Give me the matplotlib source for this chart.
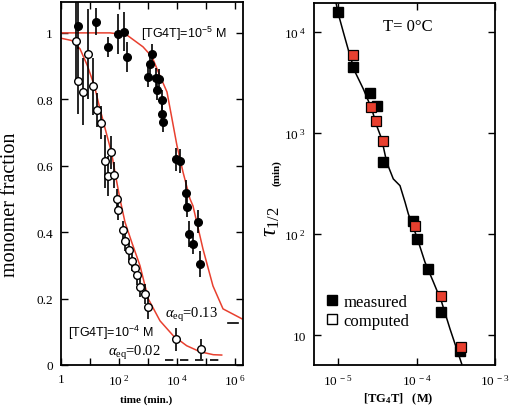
import numpy as np
import matplotlib
matplotlib.use("Agg")
import matplotlib.pyplot as plt
from matplotlib.lines import Line2D

# ---------------- data: left panel (monomer fraction vs time) ----------------
t_hi = [3.95, 15.7, 42.8, 94.6, 149, 184, 1321, 1172, 1040, 1815, 2395, 2043,
        3162, 2922, 3422, 9610, 13200, 19950, 21580, 55100, 25900, 35600, 62100]
f_hi = [1.022, 1.034, 0.957, 0.997, 1.004, 0.927, 0.937, 0.907, 0.867, 0.863,
        0.861, 0.828, 0.798, 0.756, 0.732, 0.619, 0.614, 0.518, 0.476, 0.431,
        0.395, 0.364, 0.304]
e_hi = [0.07, 0.04, 0.03, 0.06, 0.06, 0.045, 0.03, 0.03, 0.03, 0.03, 0.03, 0.03,
        0.03, 0.03, 0.03, 0.035, 0.035, 0.04, 0.03, 0.035, 0.04, 0.03, 0.04]

t_lo = [3.29, 8.74, 3.95, 5.6, 13.0, 17.9, 24.5, 54.2, 33.7, 42.8, 67.3, 83.3,
        92.4, 134, 161, 230, 292, 348, 407, 542, 788, 977, 9240, 67300]
f_lo = [0.977, 0.937, 0.856, 0.823, 0.839, 0.768, 0.729, 0.641, 0.614, 0.570,
        0.572, 0.500, 0.468, 0.405, 0.372, 0.346, 0.314, 0.291, 0.271, 0.234,
        0.215, 0.175, 0.077, 0.048]
e_lo = [0.12, 0.135, 0.10, 0.10, 0.085, 0.05, 0.05, 0.05, 0.08, 0.06, 0.04, 0.03,
        0.03, 0.03, 0.03, 0.03, 0.03, 0.03, 0.03, 0.03, 0.03, 0.035, 0.035, 0.03]

fit_hi_t = [1, 49, 184, 672, 1374, 2594, 4520, 6730, 10000, 16100, 28100, 35600,
            78800, 174000, 386000, 1.74e6]
fit_hi_f = [1.0, 1.0, 0.994, 0.958, 0.928, 0.870, 0.822, 0.741, 0.660, 0.581,
            0.500, 0.479, 0.349, 0.238, 0.169, 0.139]

fit_lo_t = [1, 2.34, 4.52, 8.07, 14.1, 22.1, 35.6, 55, 80, 108, 161, 274, 530,
            1024, 2594, 7450, 21600, 62100, 179000, 348000]
fit_lo_f = [0.984, 0.977, 0.952, 0.902, 0.841, 0.771, 0.702, 0.64, 0.56, 0.5,
            0.43, 0.37, 0.299, 0.199, 0.133, 0.088, 0.058, 0.040, 0.031, 0.030]

eq_lo_t = [3860, 355000]
eq_lo_f = [0.015, 0.015]
eq_hi_t = [575000, 1.26e6]
eq_hi_f = [0.125, 0.125]

x_ticks_left = [1, 1e1, 1e2, 1e3, 1e4, 1e5, 1e6]
x_labels_left = ["1", "", r"$\mathregular{10^{\ 2}}$", "", r"$\mathregular{10^{\ 4}}$",
                 "", r"$\mathregular{10^{\ 6}}$"]
y_ticks_left = [0, 0.2, 0.4, 0.6, 0.8, 1.0]
y_labels_left = ["0", "0.2", "0.4", "0.6", "0.8", "1"]

# ---------------- data: right panel (tau_1/2 vs [TG4T]) ----------------
conc_meas = [1.01e-5, 1.54e-5, 2.56e-5, 3.11e-5, 3.78e-5, 9.1e-5, 1.01e-4,
             1.41e-4, 2.03e-4, 3.58e-4]
tau_meas = [15700, 4470, 2470, 1840, 520, 135.5, 89, 45, 17, 7.0]
conc_comp = [1.54e-5, 2.61e-5, 3.05e-5, 3.71e-5, 9.57e-5, 2.03e-4, 3.69e-4]
tau_comp = [5920, 1820, 1325, 839, 121, 24.5, 7.55]

curve_c = [9.16e-6, 1.01e-5, 1.17e-5, 1.42e-5, 1.65e-5, 2.10e-5, 2.69e-5, 3.11e-5,
           3.60e-5, 4.17e-5, 5.06e-5, 6.16e-5, 7.14e-5, 7.87e-5, 1.01e-4, 1.28e-4,
           1.64e-4, 2.09e-4, 2.67e-4, 3.77e-4]
curve_tau = [21700, 15060, 9930, 5820, 4020, 2730, 1730, 1180, 873, 513, 351, 301,
             207, 158, 93.3, 52.8, 33.5, 21.2, 11.5, 5.16]

x_ticks_right = [1e-5, 1e-4, 1e-3]
x_labels_right = [r"$\mathregular{10^{\ -5}}$", r"$\mathregular{10^{\ -4}}$",
                  r"$\mathregular{10^{\ -3}}$"]
y_ticks_right = [10, 100, 1000, 10000]
y_labels_right = ["10", r"$\mathregular{10^{\ 2}}$", r"$\mathregular{10^{\ 3}}$",
                  r"$\mathregular{10^{\ 4}}$"]

# ---------------- figure ----------------
plt.rcParams['font.family'] = ['Liberation Serif', 'DejaVu Serif']
plt.rcParams['mathtext.fontset'] = 'custom'
plt.rcParams['mathtext.rm'] = 'Liberation Serif'
plt.rcParams['mathtext.it'] = 'Liberation Serif:italic'

W, H = 511, 410
fig = plt.figure(figsize=(W / 100, H / 100), dpi=100)

RED = '#e8402f'


def px(x, y):
    """reference pixel (from top-left) -> figure fraction"""
    return x / W, 1 - y / H


# ---- left panel ----
ax = fig.add_axes([61 / W, 44 / H, 182 / W, 363 / H])
ax.set_xscale('log')
ax.set_xlim(1, 10 ** 6.276)
ax.set_ylim(0, 1.093)

ax.plot(fit_hi_t, fit_hi_f, color=RED, lw=1.1, zorder=2)
ax.plot(fit_lo_t, fit_lo_f, color=RED, lw=1.1, zorder=2)
ax.plot(eq_lo_t, eq_lo_f, color='black', lw=1.2, dashes=(5, 4), zorder=2)
ax.plot(eq_hi_t, eq_hi_f, color='black', lw=1.2, zorder=2)

ax.errorbar(t_hi, f_hi, yerr=e_hi, fmt='o', ms=5.5, mfc='black', mec='black',
            ecolor='black', elinewidth=1.2, capsize=0, zorder=3)
ax.errorbar(t_lo, f_lo, yerr=e_lo, fmt='o', ms=5.5, mfc='white', mec='black',
            mew=1.0, ecolor='black', elinewidth=1.2, capsize=0, zorder=3)

ax.set_xticks(x_ticks_left)
ax.set_xticklabels(x_labels_left)
ax.xaxis.set_minor_locator(matplotlib.ticker.NullLocator())
ax.set_yticks(y_ticks_left)
ax.set_yticklabels(y_labels_left)
ax.tick_params(which='both', direction='in', top=True, right=True, length=5,
               width=1.0, labelsize=9.5, pad=6)
for s in ax.spines.values():
    s.set_linewidth(1.3)

ax.set_ylabel('monomer fraction', fontsize=14.5)
ax.yaxis.set_label_coords(-0.225, 0.4435)
ax.set_xlabel('time (min.)', fontsize=8, fontweight='bold')
ax.xaxis.set_label_coords(0.467, (366 - 395) / 363)

fig.text(*px(141, 34), r'[TG4T]=10$\mathregular{^{-5}}$ M',
         fontsize=9, family=['Liberation Sans'], va='center', ha='left')
fig.text(*px(68, 333), r'[TG4T]=10$\mathregular{^{-4}}$ M',
         fontsize=9, family=['Liberation Sans'], va='center', ha='left')
fig.text(*px(165, 315), r'$\alpha_{\mathregular{eq}}$=0.13',
         fontsize=10.5, va='center', ha='left')
fig.text(*px(108, 353), r'$\alpha_{\mathregular{eq}}$=0.02',
         fontsize=10.5, va='center', ha='left')

# ---- right panel ----
ax2 = fig.add_axes([314 / W, 44 / H, 181 / W, 362 / H])
ax2.set_xscale('log')
ax2.set_yscale('log')
ax2.set_xlim(10 ** -5.306, 1e-3)
ax2.set_ylim(10 ** 0.703, 10 ** 4.287)

ax2.plot(curve_c, curve_tau, color='black', lw=1.1, zorder=2)
ax2.plot(conc_meas, tau_meas, 's', ms=6.5, mfc='black', mec='black', zorder=3)
ax2.plot(conc_comp, tau_comp, 's', ms=6.5, mfc=RED, mec='black', mew=0.9, zorder=4)

ax2.set_xticks(x_ticks_right)
ax2.set_xticklabels(x_labels_right)
ax2.set_yticks(y_ticks_right)
ax2.set_yticklabels(y_labels_right)
ax2.xaxis.set_minor_locator(matplotlib.ticker.NullLocator())
ax2.yaxis.set_minor_locator(matplotlib.ticker.NullLocator())
ax2.tick_params(which='both', direction='in', top=True, right=True, length=5,
                width=1.0, labelsize=9.5, pad=6)
for s in ax2.spines.values():
    s.set_linewidth(1.3)

ax2.set_xlabel(r'[TG$_{\mathregular{4}}$T]   (M)', fontsize=9, fontweight='bold')
ax2.xaxis.set_label_coords((398 - 314) / 181, (366 - 392) / 362)

fig.text(*px(272, 222), r'$\tau_{\mathregular{1/2}}$', rotation=90,
         fontsize=17, ha='center', va='center')
fig.text(*px(277, 173), '(min)', rotation=90, fontsize=8,
         fontweight='bold', ha='center', va='center')

fig.text(*px(383, 27), 'T= 0°C', fontsize=12, ha='left', va='center')

handles = [Line2D([], [], ls='none', marker='s', ms=7.5, mfc='black', mec='black'),
           Line2D([], [], ls='none', marker='s', ms=7.5, mfc='white', mec='black')]
ax2.legend(handles, ['measured', 'computed'], loc='center left',
           bbox_to_anchor=(0.055, 0.148), frameon=False, fontsize=12,
           handlelength=1.0, handletextpad=0.15, labelspacing=0.15,
           borderpad=0, borderaxespad=0)

fig.savefig('out.png', dpi=100)
